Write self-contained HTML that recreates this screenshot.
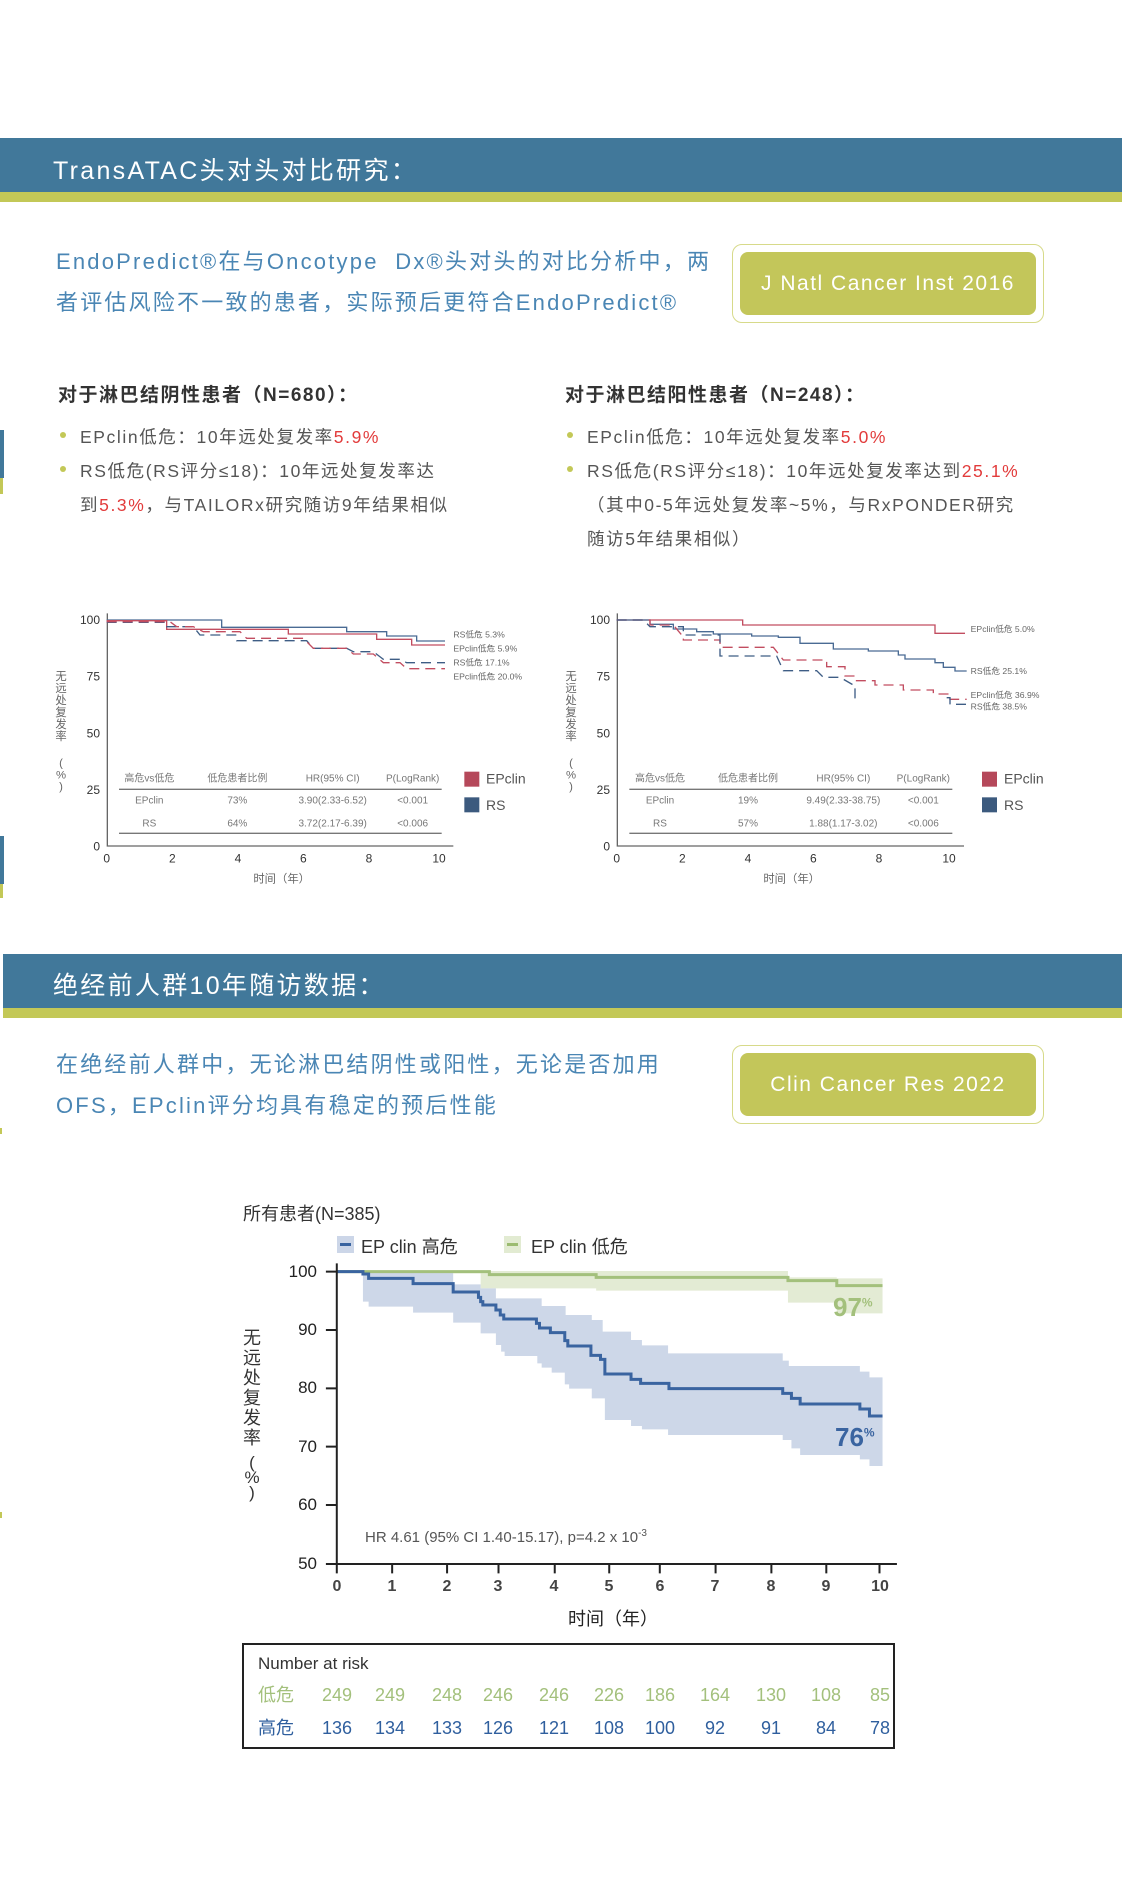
<!DOCTYPE html>
<html><head><meta charset="utf-8"><style>
*{margin:0;padding:0;box-sizing:border-box}
body{width:1122px;height:1885px;background:#fff;position:relative;overflow:hidden;font-family:"Liberation Sans","Noto Sans CJK SC",sans-serif}
.a{position:absolute;white-space:nowrap}
.ban{position:absolute;left:0;width:1122px;background:#41789a}
.grn{position:absolute;left:0;width:1122px;background:#c3c857}
.bt{color:#fff;font-size:25px;letter-spacing:2.3px}
.intro{color:#4a86b4;font-size:22px;letter-spacing:2.2px}
.btn{position:absolute;border:1.5px solid #d7da8a;border-radius:10px}
.btn div{position:absolute;left:7px;top:7px;right:7px;bottom:7px;background:#c3c65a;border-radius:8px;color:#fff;font-size:21px;letter-spacing:1.5px;display:flex;align-items:center;justify-content:center}
.h{font-size:19px;color:#333;font-weight:bold;letter-spacing:1.5px}
.b{font-size:17.5px;color:#555;letter-spacing:1.6px}
.r{color:#e23b3b}
.dot{position:absolute;width:6px;height:6px;border-radius:3px;background:#c3c857}
.lr{line-height:22px}
</style></head><body>
<div class="ban" style="top:138px;height:54px"></div>
<div class="grn" style="top:192px;height:10px"></div>
<div class="a bt" style="left:53px;top:151px">TransATAC头对头对比研究：</div>
<div class="a intro" style="left:56px;top:244px">EndoPredict®在与Oncotype&nbsp; Dx®头对头的对比分析中，两</div>
<div class="a intro" style="left:56px;top:285px">者评估风险不一致的患者，实际预后更符合EndoPredict®</div>
<div class="btn" style="left:732px;top:244px;width:312px;height:79px"><div>J Natl Cancer Inst 2016</div></div>

<div class="a" style="left:0;top:430px;width:4px;height:48px;background:#41789a"></div>
<div class="a" style="left:0;top:478px;width:3px;height:16px;background:#c3c857"></div>
<div class="a" style="left:0;top:836px;width:4px;height:48px;background:#41789a"></div>
<div class="a" style="left:0;top:884px;width:3px;height:14px;background:#c3c857"></div>

<div class="a h" style="left:58px;top:380px">对于淋巴结阴性患者（N=680）：</div>
<div class="a h" style="left:565px;top:380px">对于淋巴结阳性患者（N=248）：</div>
<div class="dot" style="left:60px;top:432px"></div>
<div class="a b" style="left:80px;top:424px">EPclin低危：10年远处复发率<span class="r">5.9%</span></div>
<div class="dot" style="left:60px;top:466px"></div>
<div class="a b" style="left:80px;top:458px">RS低危(RS评分≤18)：10年远处复发率达</div>
<div class="a b" style="left:80px;top:492px">到<span class="r">5.3%</span>，与TAILORx研究随访9年结果相似</div>
<div class="dot" style="left:567px;top:432px"></div>
<div class="a b" style="left:587px;top:424px">EPclin低危：10年远处复发率<span class="r">5.0%</span></div>
<div class="dot" style="left:567px;top:466px"></div>
<div class="a b" style="left:587px;top:458px">RS低危(RS评分≤18)：10年远处复发率达到<span class="r">25.1%</span></div>
<div class="a b" style="left:587px;top:492px">（其中0-5年远处复发率~5%，与RxPONDER研究</div>
<div class="a b" style="left:587px;top:526px">随访5年结果相似）</div>

<!-- left chart -->
<svg class="a" style="left:40px;top:590px" width="520" height="310" viewBox="0 0 1560 930" font-family="Liberation Sans, Noto Sans CJK SC, sans-serif">
<g fill="none" stroke="#666" stroke-width="4"><path d="M202,70 V768 H1240"/></g>
<g font-size="36" fill="#333" text-anchor="end"><text x="180" y="102">100</text><text x="180" y="272">75</text><text x="180" y="442">50</text><text x="180" y="612">25</text><text x="180" y="782">0</text></g>
<g font-size="36" fill="#333" text-anchor="middle"><text x="200" y="818">0</text><text x="397" y="818">2</text><text x="594" y="818">4</text><text x="790" y="818">6</text><text x="987" y="818">8</text><text x="1197" y="818">10</text>
<text x="725" y="878" fill="#666" font-size="34">时间（年）</text></g>
<g font-size="34" fill="#666" text-anchor="middle"><text x="63" y="270">无</text><text x="63" y="306">远</text><text x="63" y="342">处</text><text x="63" y="378">复</text><text x="63" y="414">发</text><text x="63" y="450">率</text><text x="63" y="530">(</text><text x="63" y="566">%</text><text x="63" y="600">)</text></g>
<path d="M200,90 H545 V112 H920 V125 H1040 V138 H1130 V153 H1215" fill="none" stroke="#4a6b94" stroke-width="4"/>
<path d="M200,92 H380 V118 H745 V132 H1010 V148 H1115 V165 H1215" fill="none" stroke="#c24d60" stroke-width="4"/>
<path d="M200,97 H380 V110 H460 L480,135 H590 V152 H800 L820,175 H920 L940,185 H1000 L1030,208 H1080 L1100,218 H1215" fill="none" stroke="#3e5d85" stroke-width="4" stroke-dasharray="30 18"/>
<path d="M200,95 H390 L410,110 H460 L490,125 H600 L620,145 H790 L820,175 H920 L940,192 H1000 L1030,218 H1080 L1100,236 H1215" fill="none" stroke="#c24d60" stroke-width="4" stroke-dasharray="30 18"/>
<g font-size="26" fill="#666"><text x="1240" y="142">RS低危 5.3%</text><text x="1240" y="184">EPclin低危 5.9%</text><text x="1240" y="226">RS低危 17.1%</text><text x="1240" y="268">EPclin低危 20.0%</text></g>
<g font-size="30" fill="#777" text-anchor="middle"><text x="328" y="574">高危vs低危</text><text x="592" y="574">低危患者比例</text><text x="878" y="574">HR(95% CI)</text><text x="1118" y="574">P(LogRank)</text>
<text x="328" y="640">EPclin</text><text x="592" y="640">73%</text><text x="878" y="640">3.90(2.33-6.52)</text><text x="1118" y="640">&lt;0.001</text>
<text x="328" y="710">RS</text><text x="592" y="710">64%</text><text x="878" y="710">3.72(2.17-6.39)</text><text x="1118" y="710">&lt;0.006</text></g>
<path d="M237,598 H1205 M237,730 H1205" stroke="#777" stroke-width="4"/>
<rect x="1273" y="545" width="45" height="45" fill="#b5485a"/><rect x="1273" y="622" width="45" height="45" fill="#3c5a7e"/>
<g font-size="42" fill="#555"><text x="1338" y="580">EPclin</text><text x="1338" y="660">RS</text></g>
</svg>

<!-- right chart -->
<svg class="a" style="left:550px;top:590px" width="520" height="310" viewBox="0 0 1560 930" font-family="Liberation Sans, Noto Sans CJK SC, sans-serif">
<g fill="none" stroke="#666" stroke-width="4"><path d="M202,70 V768 H1242"/></g>
<g font-size="36" fill="#333" text-anchor="end"><text x="180" y="102">100</text><text x="180" y="272">75</text><text x="180" y="442">50</text><text x="180" y="612">25</text><text x="180" y="782">0</text></g>
<g font-size="36" fill="#333" text-anchor="middle"><text x="200" y="818">0</text><text x="397" y="818">2</text><text x="594" y="818">4</text><text x="790" y="818">6</text><text x="987" y="818">8</text><text x="1197" y="818">10</text>
<text x="725" y="878" fill="#666" font-size="34">时间（年）</text></g>
<g font-size="34" fill="#666" text-anchor="middle"><text x="63" y="270">无</text><text x="63" y="306">远</text><text x="63" y="342">处</text><text x="63" y="378">复</text><text x="63" y="414">发</text><text x="63" y="450">率</text><text x="63" y="530">(</text><text x="63" y="566">%</text><text x="63" y="600">)</text></g>
<path d="M200,90 H578 V105 H1155 V130 H1245" fill="none" stroke="#c24d60" stroke-width="4"/>
<path d="M200,90 H300 V103 H370 V117 H440 V125 H490 V132 H605 V138 H685 V142 H750 V160 H850 V177 H955 V183 H1045 V195 H1065 V207 H1155 V218 H1180 V232 H1215 V243 H1250" fill="none" stroke="#4a6b94" stroke-width="4"/>
<path d="M200,90 H300 V105 H370 L395,135 H400 V150 H510 V172 H670 L700,210 H830 V230 H885 V258 H915 V272 H975 V285 H1060 V300 H1150 V312 H1200 V328 H1250" fill="none" stroke="#c24d60" stroke-width="4" stroke-dasharray="30 18"/>
<path d="M200,90 H280 L300,110 H400 V135 H510 V198 H680 L700,242 H800 L820,262 H870 L910,285 H915 V323 H935 M1190,323 H1200 V343 H1250" fill="none" stroke="#3e5d85" stroke-width="4" stroke-dasharray="30 18"/>
<g font-size="26" fill="#666"><text x="1262" y="126">EPclin低危 5.0%</text><text x="1262" y="252">RS低危 25.1%</text><text x="1262" y="324">EPclin低危 36.9%</text><text x="1262" y="358">RS低危 38.5%</text></g>
<g font-size="30" fill="#777" text-anchor="middle"><text x="330" y="574">高危vs低危</text><text x="594" y="574">低危患者比例</text><text x="880" y="574">HR(95% CI)</text><text x="1120" y="574">P(LogRank)</text>
<text x="330" y="640">EPclin</text><text x="594" y="640">19%</text><text x="880" y="640">9.49(2.33-38.75)</text><text x="1120" y="640">&lt;0.001</text>
<text x="330" y="710">RS</text><text x="594" y="710">57%</text><text x="880" y="710">1.88(1.17-3.02)</text><text x="1120" y="710">&lt;0.006</text></g>
<path d="M238,598 H1207 M238,730 H1207" stroke="#777" stroke-width="4"/>
<rect x="1296" y="545" width="45" height="45" fill="#b5485a"/><rect x="1296" y="622" width="45" height="45" fill="#3c5a7e"/>
<g font-size="42" fill="#555"><text x="1362" y="580">EPclin</text><text x="1362" y="660">RS</text></g>
</svg>

<div class="ban" style="top:954px;height:54px;left:3px"></div>
<div class="grn" style="top:1008px;height:10px;left:3px"></div>
<div class="a bt" style="left:53px;top:966px">绝经前人群10年随访数据：</div>
<div class="a intro" style="left:56px;top:1047px">在绝经前人群中，无论淋巴结阴性或阳性，无论是否加用</div>
<div class="a intro" style="left:56px;top:1088px">OFS，EPclin评分均具有稳定的预后性能</div>
<div class="btn" style="left:732px;top:1045px;width:312px;height:79px"><div>Clin Cancer Res 2022</div></div>
<div class="a" style="left:0;top:1128px;width:2px;height:6px;background:#c3c857"></div>
<div class="a" style="left:0;top:1512px;width:2px;height:6px;background:#c3c857"></div>

<!-- bottom chart -->
<div class="a" style="left:243px;top:1200px;font-size:18px;color:#333">所有患者(N=385)</div>
<div class="a" style="left:337px;top:1236px;width:17px;height:17px;background:#ccd6e8"><div style="margin:7px 3px;height:3px;background:#3a64a0"></div></div>
<div class="a" style="left:361px;top:1233px;font-size:18px;color:#333">EP clin 高危</div>
<div class="a" style="left:504px;top:1236px;width:17px;height:17px;background:#e2ebd2"><div style="margin:7px 3px;height:3px;background:#9bbb70"></div></div>
<div class="a" style="left:531px;top:1233px;font-size:18px;color:#333">EP clin 低危</div>
<svg class="a" style="left:230px;top:1190px" width="680" height="400" viewBox="0 0 1560 1200" preserveAspectRatio="none">
<path d="M512,250 H575 V295 H840 V302 H1280 V338 H1392 V370 H1497 V265 H1392 V262 H1280 V243 H512Z" fill="#e3ebd4"/>
<path d="M305,245 H512 V283 H575 V295 H610 V325 H715 V348 H770 V375 H830 V390 H855 V425 H920 V450 H945 V466 H1005 V490 H1268 V512 H1282 V528 H1445 V545 H1467 V562 H1497 V828 H1467 V808 H1445 V795 H1308 V775 H1288 V750 H1268 V735 H1005 V718 H945 V708 H920 V690 H860 V625 H830 V596 H778 V583 H768 V548 H738 V533 H715 V520 H705 V498 H630 V485 H622 V465 H610 V430 H575 V398 H512 V368 H420 V350 H318 V335 H305Z" fill="#cdd7e8"/>
<path d="M245,245 H595 V254 H840 V262 H1280 V272 H1392 V287 H1497" fill="none" stroke="#a3c07c" stroke-width="3" vector-effect="non-scaling-stroke"/>
<path d="M245,245 H305 V252 H318 V265 H420 V281 H512 V306 H570 V322 H575 V335 H580 V345 H610 V360 H620 V375 H628 V387 H703 V400 H710 V414 H735 V428 H768 V452 H775 V468 H828 V496 H850 V508 H860 V552 H920 V568 H942 V580 H1007 V596 H1268 V610 H1288 V625 H1308 V642 H1445 V657 H1467 V678 H1497" fill="none" stroke="#3a64a0" stroke-width="3" vector-effect="non-scaling-stroke"/>
<path d="M245,220 V1122 H1530" fill="none" stroke="#222" stroke-width="2" vector-effect="non-scaling-stroke"/>
<path d="M220,245 H245 M220,420 H245 M220,595 H245 M220,770 H245 M220,945 H245 M220,1122 H245 M245,1122 V1150 M372,1122 V1150 M498,1122 V1150 M616,1122 V1150 M745,1122 V1150 M870,1122 V1150 M986,1122 V1150 M1114,1122 V1150 M1242,1122 V1150 M1368,1122 V1150 M1490,1122 V1150" stroke="#222" stroke-width="2" vector-effect="non-scaling-stroke"/>
</svg>
<div class="a" style="left:280px;top:1261px;width:37px;text-align:right;font-size:17px;color:#222;line-height:22px">100</div>
<div class="a" style="left:280px;top:1319px;width:37px;text-align:right;font-size:17px;color:#222;line-height:22px">90</div>
<div class="a" style="left:280px;top:1377px;width:37px;text-align:right;font-size:17px;color:#222;line-height:22px">80</div>
<div class="a" style="left:280px;top:1436px;width:37px;text-align:right;font-size:17px;color:#222;line-height:22px">70</div>
<div class="a" style="left:280px;top:1494px;width:37px;text-align:right;font-size:17px;color:#222;line-height:22px">60</div>
<div class="a" style="left:280px;top:1553px;width:37px;text-align:right;font-size:17px;color:#222;line-height:22px">50</div>
<div class="a" style="left:243px;top:1328px;width:18px;font-size:18px;line-height:20px;color:#333;white-space:normal;text-align:center">无远处复发率</div>
<div class="a" style="left:243px;top:1455px;width:18px;font-size:17px;line-height:15px;color:#333;white-space:normal;text-align:center">(<br>%<br>)</div>
<div class="a" style="left:365px;top:1528px;font-size:15px;color:#555">HR 4.61 (95% CI 1.40-15.17), p=4.2 x 10<sup style="font-size:10px">-3</sup></div>
<div class="a" style="left:833px;top:1292px;font-size:26px;font-weight:bold;color:#a3c07c">97<sup style="font-size:12px">%</sup></div>
<div class="a" style="left:835px;top:1422px;font-size:26px;font-weight:bold;color:#3a64a0">76<sup style="font-size:12px">%</sup></div>
<div class="a" style="left:317px;top:1578px;width:600px;font-size:16px;font-weight:bold;color:#444">
<span class="a" style="left:20px;transform:translateX(-50%)">0</span><span class="a" style="left:75px;transform:translateX(-50%)">1</span><span class="a" style="left:130px;transform:translateX(-50%)">2</span><span class="a" style="left:181px;transform:translateX(-50%)">3</span><span class="a" style="left:237px;transform:translateX(-50%)">4</span><span class="a" style="left:292px;transform:translateX(-50%)">5</span><span class="a" style="left:343px;transform:translateX(-50%)">6</span><span class="a" style="left:398px;transform:translateX(-50%)">7</span><span class="a" style="left:454px;transform:translateX(-50%)">8</span><span class="a" style="left:509px;transform:translateX(-50%)">9</span><span class="a" style="left:563px;transform:translateX(-50%)">10</span></div>
<div class="a" style="left:568px;top:1605px;font-size:18px;color:#222">时间（年）</div>
<div class="a" style="left:242px;top:1643px;width:653px;height:106px;border:2px solid #222"></div>
<div class="a" style="left:258px;top:1654px;font-size:17px;color:#333">Number at risk</div>
<div class="a lr" style="left:258px;top:1684px;font-size:18px;color:#a3c07c">低危</div>
<div class="a lr" style="left:258px;top:1717px;font-size:18px;color:#2f5f9e">高危</div>
<div class="a lr" style="left:317px;top:1684px;width:600px;font-size:18px;color:#a3c07c">
<span class="a" style="left:20px;transform:translateX(-50%)">249</span><span class="a" style="left:73px;transform:translateX(-50%)">249</span><span class="a" style="left:130px;transform:translateX(-50%)">248</span><span class="a" style="left:181px;transform:translateX(-50%)">246</span><span class="a" style="left:237px;transform:translateX(-50%)">246</span><span class="a" style="left:292px;transform:translateX(-50%)">226</span><span class="a" style="left:343px;transform:translateX(-50%)">186</span><span class="a" style="left:398px;transform:translateX(-50%)">164</span><span class="a" style="left:454px;transform:translateX(-50%)">130</span><span class="a" style="left:509px;transform:translateX(-50%)">108</span><span class="a" style="left:563px;transform:translateX(-50%)">85</span></div>
<div class="a lr" style="left:317px;top:1717px;width:600px;font-size:18px;color:#2f5f9e">
<span class="a" style="left:20px;transform:translateX(-50%)">136</span><span class="a" style="left:73px;transform:translateX(-50%)">134</span><span class="a" style="left:130px;transform:translateX(-50%)">133</span><span class="a" style="left:181px;transform:translateX(-50%)">126</span><span class="a" style="left:237px;transform:translateX(-50%)">121</span><span class="a" style="left:292px;transform:translateX(-50%)">108</span><span class="a" style="left:343px;transform:translateX(-50%)">100</span><span class="a" style="left:398px;transform:translateX(-50%)">92</span><span class="a" style="left:454px;transform:translateX(-50%)">91</span><span class="a" style="left:509px;transform:translateX(-50%)">84</span><span class="a" style="left:563px;transform:translateX(-50%)">78</span></div>
</body></html>
